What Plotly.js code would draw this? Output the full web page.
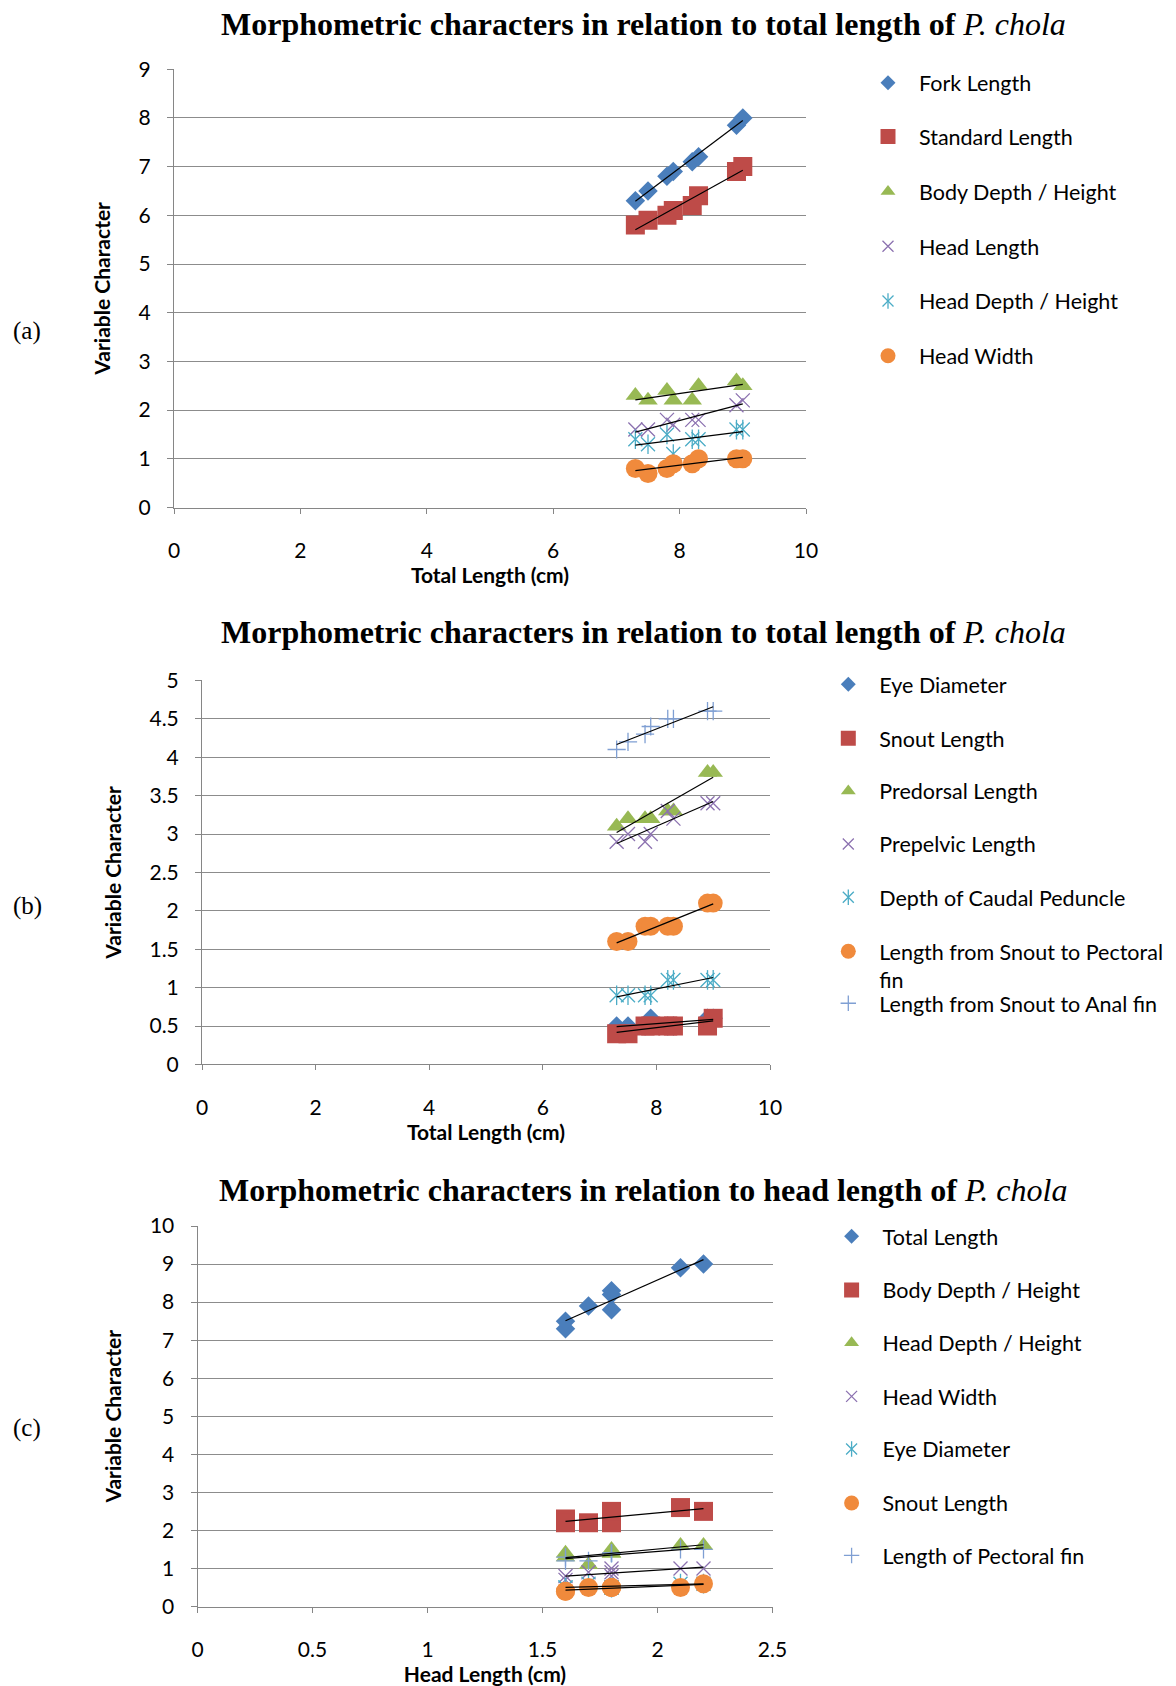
<!DOCTYPE html>
<html><head><meta charset="utf-8">
<script src="https://cdn.plot.ly/plotly-3.0.1.min.js"></script>
<style>html,body{margin:0;padding:0;background:#fff}#chart{width:1176px;height:1686px}</style>
</head><body><div id="chart"></div>
<script>
// ---------------- data (one entry per fish) ----------------
const totalLength        = [7.3, 7.5, 7.8, 7.9, 8.2, 8.3, 8.9, 9.0];
const headLength         = [1.6, 1.6, 1.8, 1.7, 1.8, 1.8, 2.1, 2.2];
const forkLength         = [6.3, 6.5, 6.8, 6.9, 7.1, 7.2, 7.85, 8.0];
const standardLength     = [5.8, 5.9, 6.0, 6.1, 6.2, 6.4, 6.9, 7.0];
const bodyDepth          = [2.3, 2.2, 2.4, 2.2, 2.2, 2.5, 2.6, 2.5];
const headDepth          = [1.4, 1.3, 1.5, 1.1, 1.4, 1.4, 1.6, 1.6];
const headWidth          = [0.8, 0.7, 0.8, 0.9, 0.9, 1.0, 1.0, 1.0];
const eyeDiameter        = [0.5, 0.5, 0.5, 0.6, 0.5, 0.5, 0.6, 0.6];
const snoutLength        = [0.4, 0.4, 0.5, 0.5, 0.5, 0.5, 0.5, 0.6];
const predorsalLength    = [3.1, 3.2, 3.2, 3.2, 3.3, 3.3, 3.8, 3.8];
const prepelvicLength    = [2.9, 3.0, 2.9, 3.0, 3.3, 3.2, 3.4, 3.4];
const caudalPeduncle     = [0.9, 0.9, 0.9, 0.9, 1.1, 1.1, 1.1, 1.1];
const snoutToPectoral    = [1.6, 1.6, 1.8, 1.8, 1.8, 1.8, 2.1, 2.1];
const snoutToAnal        = [4.1, 4.2, 4.3, 4.4, 4.5, 4.5, 4.6, 4.6];
const pectoralFinLength  = [1.2, 1.3, 1.4, 1.2, 1.4, 1.4, 1.5, 1.5];

const namesA = ['Fork Length','Standard Length','Body Depth / Height','Head Length','Head Depth / Height','Head Width'];
const seriesA = [forkLength, standardLength, bodyDepth, headLength, headDepth, headWidth];
const namesB = ['Eye Diameter','Snout Length','Predorsal Length','Prepelvic Length','Depth of Caudal Peduncle','Length from Snout to Pectoral<br>fin','Length from Snout to Anal fin'];
const seriesB = [eyeDiameter, snoutLength, predorsalLength, prepelvicLength, caudalPeduncle, snoutToPectoral, snoutToAnal];
const namesC = ['Total Length','Body Depth / Height','Head Depth / Height','Head Width','Eye Diameter','Snout Length','Length of Pectoral fin'];
const seriesC = [totalLength, bodyDepth, headDepth, headWidth, eyeDiameter, snoutLength, pectoralFinLength];

const titleTL = '<b>Morphometric characters in relation to total length of</b> <i>P. chola</i>';
const titleHL = '<b>Morphometric characters in relation to head length of</b> <i>P. chola</i>';

// ---------------- styles ----------------
const W = 1176, H = 1686;
const STY = [
  {symbol:'diamond',         color:'#4A7EBB', size:15, leg:11.5},
  {symbol:'square',          color:'#BE4B48', size:19, leg:15},
  {symbol:'triangle-up',     color:'#98B954', size:17, leg:13},
  {symbol:'x-thin-open',     color:'#8C72B0', size:14, leg:11, thin:true},
  {symbol:'x-thin-open',     color:'#4BACC6', size:14, leg:11, thin:true, star:true},
  {symbol:'circle',          color:'#F08A3C', size:19, leg:15},
  {symbol:'cross-thin-open', color:'#7F9FD3', size:13, leg:11, thin:true}
];
const SANS = 'Lato, "Open Sans", sans-serif';
const SERIF = '"Liberation Serif", "Times New Roman", serif';

const panels = [
  {x: totalLength, names: namesA, series: seriesA, title: titleTL, label:'(a)', xTitle:'Total Length (cm)',
   xr:[0,10], xd:2, yr:[0,9], yd:1, box:{l:174, r:806, t:69.2, b:507.5},
   titleY:23.6, labelY:331,
   leg:{text:919, rows:[82.8,136.5,191.4,246.2,301,355.8]}},
  {x: totalLength, names: namesB, series: seriesB, title: titleTL, label:'(b)', xTitle:'Total Length (cm)',
   xr:[0,10], xd:2, yr:[0,5], yd:0.5, box:{l:202, r:770, t:680.4, b:1064.4},
   titleY:632, labelY:906,
   leg:{text:879.3, rows:[684.3,738.3,791,844,897.3,950.7,1003.3]}},
  {x: headLength, names: namesC, series: seriesC, title: titleHL, label:'(c)', xTitle:'Head Length (cm)',
   xr:[0,2.5], xd:0.5, yr:[0,10], yd:1, box:{l:197.5, r:772.5, t:1226, b:1606.5},
   titleY:1190, labelY:1428,
   leg:{text:882.6, rows:[1236.3,1290,1342.7,1396.4,1449,1503,1555.5]}}
];

function fit(xs, ys){
  const n = xs.length; let sx=0, sy=0, sxx=0, sxy=0;
  for (let i=0;i<n;i++){ sx+=xs[i]; sy+=ys[i]; sxx+=xs[i]*xs[i]; sxy+=xs[i]*ys[i]; }
  const m = (n*sxy - sx*sy)/(n*sxx - sx*sx), c = (sy - m*sx)/n;
  const x0 = Math.min(...xs), x1 = Math.max(...xs);
  return {x:[x0,x1], y:[c+m*x0, c+m*x1]};
}

const traces = [], fits = [], legTraces = [];
const layout = {width:W, height:H, margin:{l:0,r:0,t:0,b:0}, paper_bgcolor:'#fff', plot_bgcolor:'#fff',
  showlegend:true, annotations:[], font:{family:SANS, color:'#000'}};
let legN = 0;
const ITEMW = 52;
const LEGOFF = ITEMW + 10;

panels.forEach((p, pi) => {
  const xa = pi===0 ? 'x' : 'x'+(pi+1), ya = pi===0 ? 'y' : 'y'+(pi+1);
  const xk = pi===0 ? 'xaxis' : 'xaxis'+(pi+1), yk = pi===0 ? 'yaxis' : 'yaxis'+(pi+1);
  const b = p.box;
  layout[xk] = {domain:[b.l/W, b.r/W], range:p.xr, dtick:p.xd, tick0:0, anchor:ya, showgrid:false, zeroline:false,
    showline:true, linecolor:'#868686', linewidth:1, ticks:'outside', ticklen:5, tickcolor:'#868686',
    tickfont:{family:SANS, size:21, color:'#000'}, ticklabelstandoff:19, automargin:false, fixedrange:true,
    title:{text:p.xTitle, font:{family:SANS, size:21, color:'#000', weight:'bold'}, standoff:2}};
  layout[yk] = {domain:[1-b.b/H, 1-b.t/H], range:p.yr, dtick:p.yd, tick0:0, anchor:xa, showgrid:true, gridcolor:'#8C8C8C', gridwidth:1,
    zeroline:false, showline:true, linecolor:'#868686', linewidth:1, ticks:'outside', ticklen:6, tickcolor:'#868686',
    tickfont:{family:SANS, size:21, color:'#000'}, ticklabelstandoff:12, automargin:false, fixedrange:true,
    title:{text:'Variable Character', font:{family:SANS, size:21, color:'#000', weight:'bold'}, standoff:22}};

  layout.annotations.push({xref:'paper', yref:'paper', x:643/W, y:1-p.titleY/H, xanchor:'center', yanchor:'middle',
    showarrow:false, text:p.title, font:{family:SERIF, size:32, color:'#000'}});
  layout.annotations.push({xref:'paper', yref:'paper', x:27/W, y:1-p.labelY/H, xanchor:'center', yanchor:'middle',
    showarrow:false, text:p.label, font:{family:SERIF, size:25, color:'#000'}});

  p.series.forEach((ys, si) => {
    const s = STY[si];
    const mk = {symbol:s.symbol, size:s.size, color:s.color};
    if (s.thin) mk.line = {color:s.color, width:1.3};
    traces.push({type:'scatter', mode:'markers', x:p.x, y:ys, xaxis:xa, yaxis:ya, name:p.names[si].replace('<br>',' '),
      showlegend:false, marker:mk, hoverinfo:'x+y+name'});
    if (s.star) traces.push({type:'scatter', mode:'markers', x:p.x, y:ys, xaxis:xa, yaxis:ya, showlegend:false,
      marker:{symbol:'line-ns-open', size:s.size, color:s.color, line:{color:s.color, width:1.3}}, hoverinfo:'skip'});
    const f = fit(p.x, ys);
    fits.push({type:'scatter', mode:'lines', x:f.x, y:f.y, xaxis:xa, yaxis:ya, showlegend:false,
      line:{color:'#000', width:1.2}, hoverinfo:'skip'});

    // legend entries (one legend per entry, placed like the original)
    const row = p.leg.rows[si];
    const twoLine = p.names[si].indexOf('<br>') >= 0;
    const addLeg = (name, marker) => {
      legN++;
      const lk = legN===1 ? 'legend' : 'legend'+legN;
      layout[lk] = {x:(p.leg.text-LEGOFF)/W, xanchor:'left', y:1-(twoLine ? row+14.6 : row)/H, yanchor:'middle',
        bgcolor:'rgba(0,0,0,0)', borderwidth:0, font:{family:SANS, size:21.5, color:'#000'}, itemwidth:ITEMW,
        itemclick:false, itemdoubleclick:false, valign:'top'};
      legTraces.push({type:'scatter', mode:'markers', x:[null], y:[null], xaxis:xa, yaxis:ya, name:name,
        legend:lk, showlegend:true, marker:marker, hoverinfo:'skip'});
    };
    const lm = {symbol:s.symbol, size:s.leg, color:s.color};
    if (s.thin) lm.line = {color:s.color, width:1.3};
    addLeg(p.names[si], lm);
    if (s.star) addLeg(' ', {symbol:'line-ns-open', size:s.leg, color:s.color, line:{color:s.color, width:1.3}});
  });
});

Plotly.newPlot('chart', traces.concat(fits, legTraces), layout, {displayModeBar:false, staticPlot:true});
</script></body></html>
